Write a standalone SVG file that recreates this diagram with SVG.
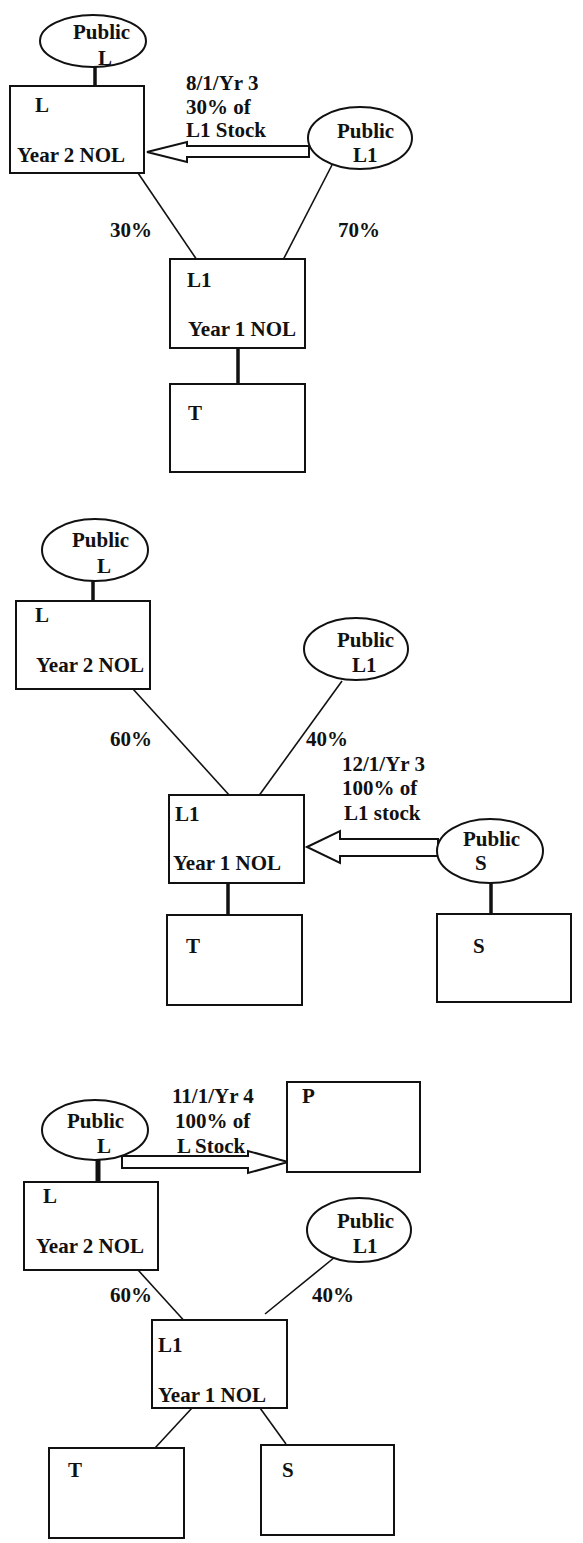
<svg xmlns="http://www.w3.org/2000/svg" width="583" height="1543" viewBox="0 0 583 1543">
<style>
text{font-family:"Liberation Serif","DejaVu Serif","Noto Serif","Times New Roman",Times,serif;font-weight:bold;font-size:21px;fill:#111}
.box{fill:#fff;stroke:#111;stroke-width:2}
.ell{fill:#fff;stroke:#111;stroke-width:2}
.ln{stroke:#111;stroke-width:1.6;fill:none}
.thick{stroke:#111;stroke-width:3.5;fill:none}
.arr{fill:#fff;stroke:#111;stroke-width:2;stroke-linejoin:miter}
</style>
<rect width="583" height="1543" fill="#fff"/>
<g id="connectors">
  <line class="thick" x1="95" y1="66" x2="95" y2="87"/>
  <line class="ln" x1="138" y1="173" x2="199" y2="263"/>
  <line class="ln" x1="332" y1="165" x2="282" y2="262"/>
  <line class="thick" x1="238" y1="348" x2="238" y2="384"/>
  <polygon class="arr" points="147,152 187,142 187,146 309,146 309,157 187,157 187,162"/>
  <line class="thick" x1="93" y1="580" x2="93" y2="601"/>
  <line class="ln" x1="133" y1="689" x2="230" y2="796"/>
  <line class="ln" x1="342" y1="681" x2="258" y2="797"/>
  <line class="thick" x1="228" y1="883" x2="228" y2="915"/>
  <line class="thick" x1="491" y1="883" x2="491" y2="914"/>
  <polygon class="arr" points="307,847 340,831 340,839 438,839 438,856 340,856 340,863"/>
  <line class="thick" x1="98" y1="1159" x2="98" y2="1186" style="stroke-width:5"/>
  <line class="ln" x1="138" y1="1270" x2="188" y2="1325"/>
  <line class="ln" x1="335" y1="1257" x2="265" y2="1314"/>
  <line class="ln" x1="192" y1="1408" x2="155" y2="1448"/>
  <line class="ln" x1="260" y1="1408" x2="286" y2="1444"/>
  <polygon class="arr" points="122,1156 248,1156 248,1151 288,1162 248,1173 248,1168 122,1168"/>
</g>
<g id="d1-public-l"><ellipse class="ell" cx="93" cy="41" rx="53" ry="26"/><text x="73" y="39">Public</text><text x="98" y="65">L</text></g>
<g id="d1-l"><rect class="box" x="10" y="86" width="134" height="87"/><text x="35" y="112">L</text><text x="17" y="162">Year 2 NOL</text></g>
<g id="d1-public-l1"><ellipse class="ell" cx="360" cy="138" rx="52" ry="31"/><text x="337" y="138">Public</text><text x="353" y="162">L1</text></g>
<g id="d1-l1"><rect class="box" x="170" y="259" width="135" height="89"/><text x="187" y="287">L1</text><text x="188" y="336">Year 1 NOL</text></g>
<g id="d1-t"><rect class="box" x="170" y="384" width="135" height="88"/><text x="188" y="420">T</text></g>
<g id="d1-labels">
  <text x="186" y="90">8/1/Yr 3</text><text x="186" y="114">30% of</text><text x="186" y="137">L1 Stock</text>
  <text x="110" y="237">30%</text><text x="338" y="237">70%</text>
</g>
<g id="d2-public-l"><ellipse class="ell" cx="95" cy="550" rx="53" ry="31"/><text x="72" y="547">Public</text><text x="97" y="573">L</text></g>
<g id="d2-l"><rect class="box" x="16" y="601" width="134" height="88"/><text x="35" y="622">L</text><text x="36" y="672">Year 2 NOL</text></g>
<g id="d2-public-l1"><ellipse class="ell" cx="356" cy="649" rx="52" ry="31"/><text x="337" y="647">Public</text><text x="352" y="672">L1</text></g>
<g id="d2-l1"><rect class="box" x="169" y="795" width="135" height="88"/><text x="175" y="821">L1</text><text x="173" y="870">Year 1 NOL</text></g>
<g id="d2-public-s"><ellipse class="ell" cx="490" cy="851" rx="53" ry="32"/><text x="463" y="846">Public</text><text x="475" y="870">S</text></g>
<g id="d2-t"><rect class="box" x="167" y="915" width="135" height="90"/><text x="186" y="953">T</text></g>
<g id="d2-s"><rect class="box" x="437" y="914" width="134" height="88"/><text x="473" y="953">S</text></g>
<g id="d2-labels">
  <text x="110" y="746">60%</text><text x="306" y="746">40%</text>
  <text x="342" y="771">12/1/Yr 3</text><text x="342" y="795">100% of</text><text x="344" y="820">L1 stock</text>
</g>
<g id="d3-public-l"><ellipse class="ell" cx="95" cy="1130" rx="53" ry="30"/><text x="67" y="1128">Public</text><text x="97" y="1153">L</text></g>
<g id="d3-p"><rect class="box" x="287" y="1082" width="133" height="90"/><text x="302" y="1103">P</text></g>
<g id="d3-l"><rect class="box" x="24" y="1182" width="134" height="88"/><text x="43" y="1203">L</text><text x="36" y="1253">Year 2 NOL</text></g>
<g id="d3-public-l1"><ellipse class="ell" cx="359" cy="1230" rx="52" ry="32"/><text x="337" y="1228">Public</text><text x="353" y="1253">L1</text></g>
<g id="d3-l1"><rect class="box" x="152" y="1320" width="135" height="88"/><text x="158" y="1352">L1</text><text x="158" y="1402">Year 1 NOL</text></g>
<g id="d3-t"><rect class="box" x="49" y="1448" width="135" height="90"/><text x="68" y="1477">T</text></g>
<g id="d3-s"><rect class="box" x="261" y="1445" width="133" height="90"/><text x="282" y="1477">S</text></g>
<g id="d3-labels">
  <text x="172" y="1103">11/1/Yr 4</text><text x="175" y="1128">100% of</text><text x="177" y="1153">L Stock</text>
  <text x="110" y="1302">60%</text><text x="312" y="1302">40%</text>
</g>
</svg>
